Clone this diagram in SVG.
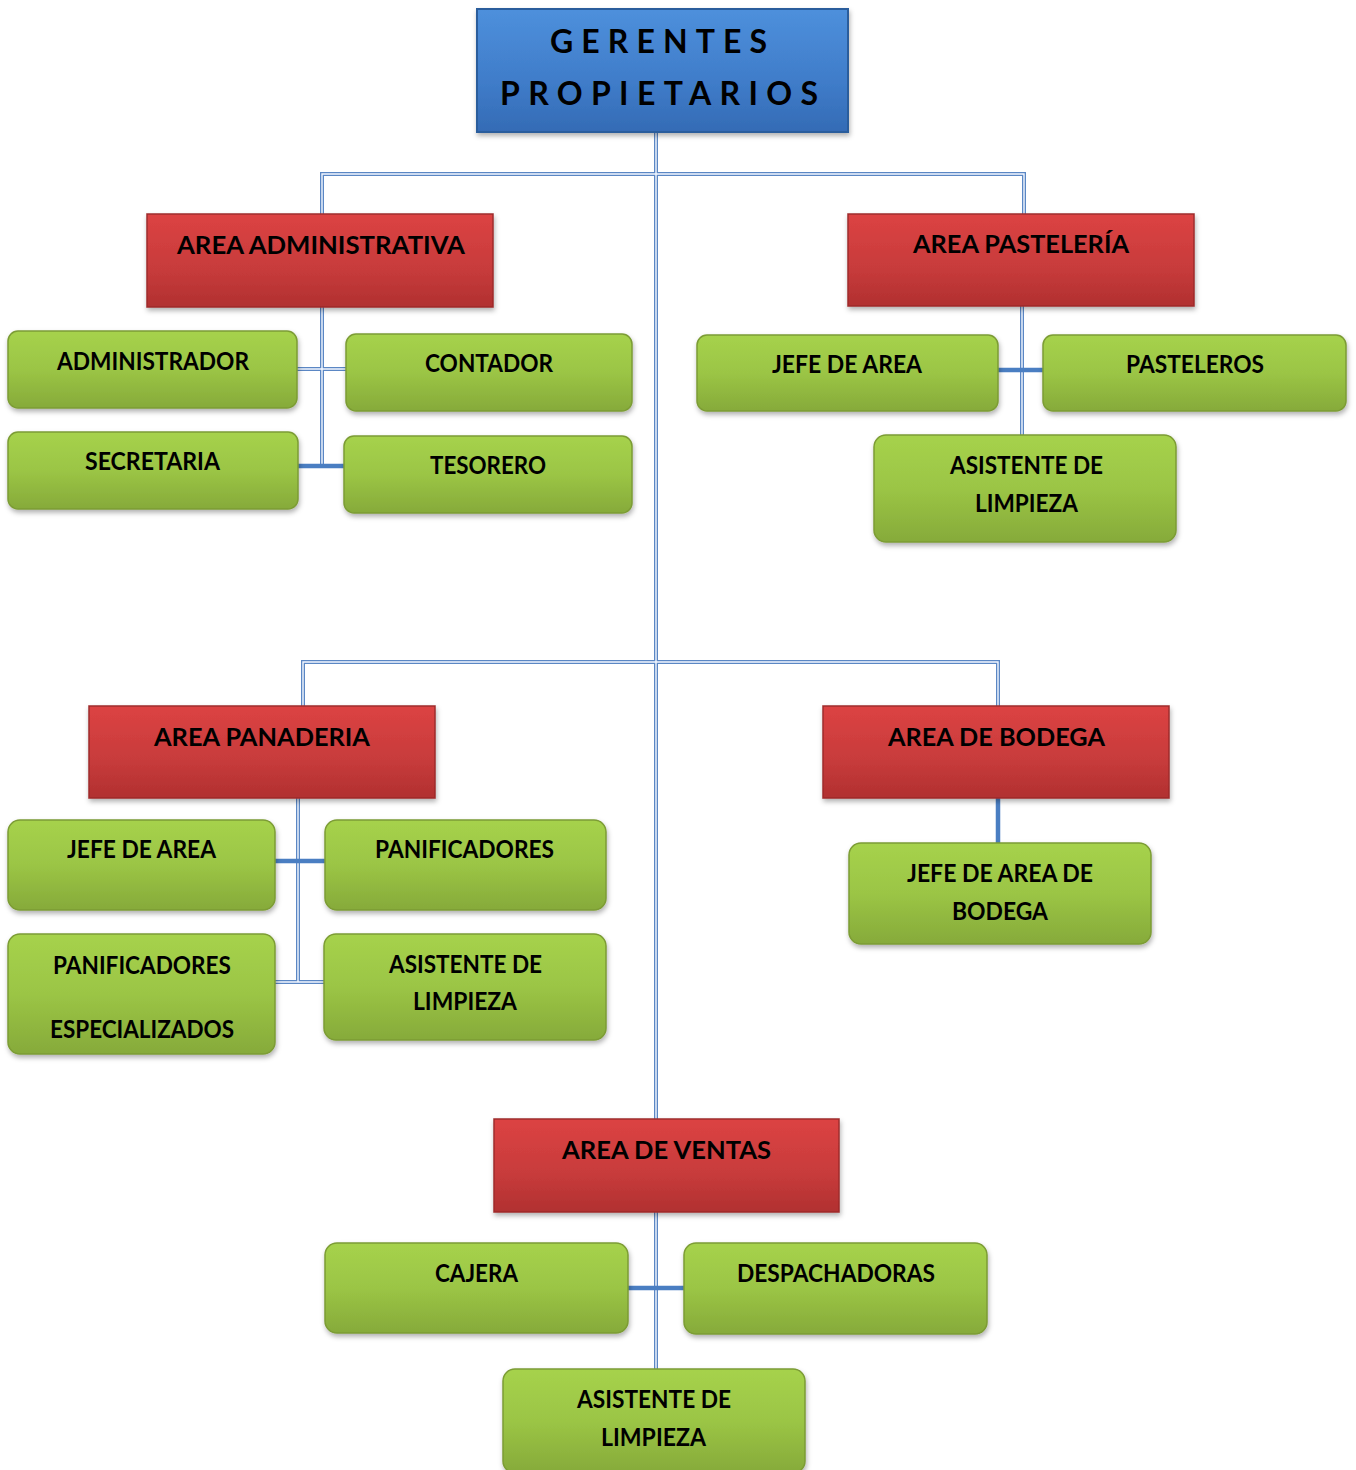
<svg xmlns="http://www.w3.org/2000/svg" width="1356" height="1470" viewBox="0 0 1356 1470">
<defs>
<linearGradient id="gGreen" x1="0" y1="0" x2="0" y2="1">
<stop offset="0" stop-color="#a6d24c"/><stop offset="0.5" stop-color="#9bc545"/><stop offset="1" stop-color="#86aa3a"/>
</linearGradient>
<linearGradient id="gRed" x1="0" y1="0" x2="0" y2="1">
<stop offset="0" stop-color="#dc4343"/><stop offset="0.6" stop-color="#c73b3b"/><stop offset="1" stop-color="#b13030"/>
</linearGradient>
<linearGradient id="gBlue" x1="0" y1="0" x2="0" y2="1">
<stop offset="0" stop-color="#4e90dc"/><stop offset="0.6" stop-color="#3f7cc9"/><stop offset="1" stop-color="#346bb5"/>
</linearGradient>
<filter id="sh" x="-10%" y="-10%" width="120%" height="130%">
<feDropShadow dx="1" dy="3" stdDeviation="2.5" flood-color="#000" flood-opacity="0.3"/>
</filter>
</defs>
<style>
.g{fill:url(#gGreen);stroke:#7c9c34;stroke-width:1.5;filter:url(#sh)}
.r{fill:url(#gRed);stroke:#9e2b2b;stroke-width:1.5;filter:url(#sh)}
.b{fill:url(#gBlue);stroke:#2c5d9c;stroke-width:2;filter:url(#sh)}
text{font-family:Lato,"Liberation Sans",sans-serif;font-weight:bold;font-size:24px;fill:#000}
.t{font-size:32px}
.dl{fill:none;stroke:#5b87c4;stroke-width:4}
.dc{fill:none;stroke:#f4f8ff;stroke-width:1.4}
.tk{fill:none;stroke:#4a7ec2;stroke-width:4.5}
</style>
<rect width="1356" height="1470" fill="#fff"/>
<g id="connectors">
<path class="dl" d="M656 132V1119 M322 214V174H1024V214 M303 706V662H998V706 M322 307V467 M297 369H346 M1022 306V435 M298 798V982 M275 982H324 M656 1212V1369"/>
<path class="dc" d="M656 132V1119 M322 214V174H1024V214 M303 706V662H998V706 M322 307V467 M297 369H346 M1022 306V435 M298 798V982 M275 982H324 M656 1212V1369"/>
<path class="tk" d="M292 466H344 M998 370H1043 M275 861H325 M998 798V843 M628 1288H684"/>
</g>
<g id="gerentes">
<rect class="b" x="477" y="9" width="371" height="123"/>
<text class="t" x="550" y="53" textLength="217" lengthAdjust="spacing">GERENTES</text>
<text class="t" x="500" y="105" textLength="318" lengthAdjust="spacing">PROPIETARIOS</text>
</g>
<g id="area-administrativa">
<rect class="r" x="147" y="214" width="346" height="93"/>
<text x="177" y="254" textLength="288" lengthAdjust="spacingAndGlyphs">AREA ADMINISTRATIVA</text>
</g>
<g id="administrador">
<rect class="g" x="8" y="331" width="289" height="77" rx="10"/>
<text x="57" y="370" textLength="192" lengthAdjust="spacingAndGlyphs">ADMINISTRADOR</text>
</g>
<g id="contador">
<rect class="g" x="346" y="334" width="286" height="77" rx="10"/>
<text x="425" y="372" textLength="128" lengthAdjust="spacingAndGlyphs">CONTADOR</text>
</g>
<g id="secretaria">
<rect class="g" x="8" y="432" width="290" height="77" rx="10"/>
<text x="85" y="470" textLength="135" lengthAdjust="spacingAndGlyphs">SECRETARIA</text>
</g>
<g id="tesorero">
<rect class="g" x="344" y="436" width="288" height="77" rx="10"/>
<text x="430" y="474" textLength="116" lengthAdjust="spacingAndGlyphs">TESORERO</text>
</g>
<g id="area-pasteleria">
<rect class="r" x="848" y="214" width="346" height="92"/>
<text x="913" y="253" textLength="216" lengthAdjust="spacingAndGlyphs">AREA PASTELERÍA</text>
</g>
<g id="jefe-pasteleria">
<rect class="g" x="697" y="335" width="301" height="76" rx="10"/>
<text x="772" y="373" textLength="150" lengthAdjust="spacingAndGlyphs">JEFE DE AREA</text>
</g>
<g id="pasteleros">
<rect class="g" x="1043" y="335" width="303" height="76" rx="10"/>
<text x="1126" y="373" textLength="138" lengthAdjust="spacingAndGlyphs">PASTELEROS</text>
</g>
<g id="asistente-pasteleria">
<rect class="g" x="874" y="435" width="302" height="107" rx="12"/>
<text x="950" y="474" textLength="153" lengthAdjust="spacingAndGlyphs">ASISTENTE DE</text>
<text x="975" y="512" textLength="103" lengthAdjust="spacingAndGlyphs">LIMPIEZA</text>
</g>
<g id="area-panaderia">
<rect class="r" x="89" y="706" width="346" height="92"/>
<text x="154" y="746" textLength="216" lengthAdjust="spacingAndGlyphs">AREA PANADERIA</text>
</g>
<g id="jefe-panaderia">
<rect class="g" x="8" y="820" width="267" height="90" rx="12"/>
<text x="67" y="858" textLength="149" lengthAdjust="spacingAndGlyphs">JEFE DE AREA</text>
</g>
<g id="panificadores">
<rect class="g" x="325" y="820" width="281" height="90" rx="12"/>
<text x="375" y="858" textLength="179" lengthAdjust="spacingAndGlyphs">PANIFICADORES</text>
</g>
<g id="panificadores-especializados">
<rect class="g" x="8" y="934" width="267" height="120" rx="12"/>
<text x="53" y="974" textLength="178" lengthAdjust="spacingAndGlyphs">PANIFICADORES</text>
<text x="50" y="1038" textLength="184" lengthAdjust="spacingAndGlyphs">ESPECIALIZADOS</text>
</g>
<g id="asistente-panaderia">
<rect class="g" x="324" y="934" width="282" height="106" rx="12"/>
<text x="389" y="973" textLength="153" lengthAdjust="spacingAndGlyphs">ASISTENTE DE</text>
<text x="413" y="1010" textLength="104" lengthAdjust="spacingAndGlyphs">LIMPIEZA</text>
</g>
<g id="area-bodega">
<rect class="r" x="823" y="706" width="346" height="92"/>
<text x="888" y="746" textLength="217" lengthAdjust="spacingAndGlyphs">AREA DE BODEGA</text>
</g>
<g id="jefe-bodega">
<rect class="g" x="849" y="843" width="302" height="101" rx="12"/>
<text x="907" y="882" textLength="186" lengthAdjust="spacingAndGlyphs">JEFE DE AREA DE</text>
<text x="952" y="920" textLength="96" lengthAdjust="spacingAndGlyphs">BODEGA</text>
</g>
<g id="area-ventas">
<rect class="r" x="494" y="1119" width="345" height="93"/>
<text x="562" y="1159" textLength="209" lengthAdjust="spacingAndGlyphs">AREA DE VENTAS</text>
</g>
<g id="cajera">
<rect class="g" x="325" y="1243" width="303" height="90" rx="12"/>
<text x="435" y="1282" textLength="83" lengthAdjust="spacingAndGlyphs">CAJERA</text>
</g>
<g id="despachadoras">
<rect class="g" x="684" y="1243" width="303" height="91" rx="12"/>
<text x="737" y="1282" textLength="198" lengthAdjust="spacingAndGlyphs">DESPACHADORAS</text>
</g>
<g id="asistente-ventas">
<rect class="g" x="503" y="1369" width="302" height="104" rx="12"/>
<text x="577" y="1408" textLength="154" lengthAdjust="spacingAndGlyphs">ASISTENTE DE</text>
<text x="601" y="1446" textLength="105" lengthAdjust="spacingAndGlyphs">LIMPIEZA</text>
</g>
</svg>
